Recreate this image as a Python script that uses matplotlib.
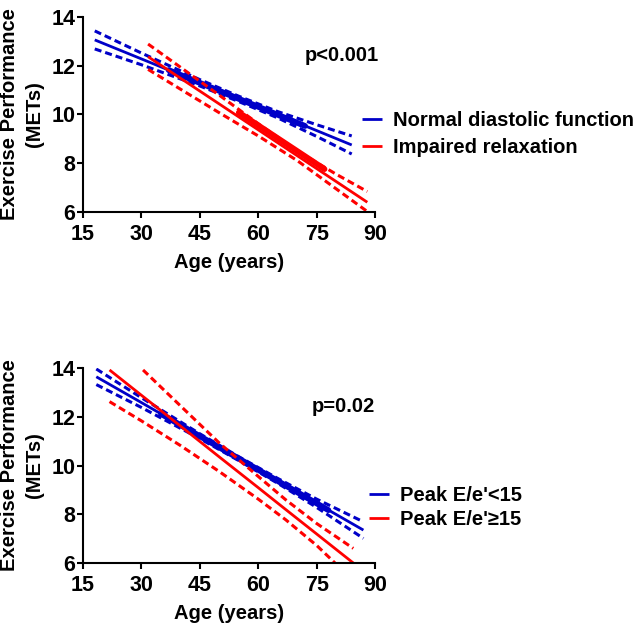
import numpy as np
import matplotlib
matplotlib.use("Agg")
import matplotlib.pyplot as plt

plt.rcParams['font.family'] = ['Liberation Sans', 'DejaVu Sans']
plt.rcParams['font.weight'] = 'bold'

BLUE = '#0000c8'
RED = '#ff0000'

# top panel: normal diastolic function vs impaired relaxation
top_blue_age = [18, 30, 45, 55, 65, 75, 84]
top_blue_fit = [13.06, 12.28, 11.30, 10.64, 9.99, 9.34, 8.75]
top_blue_hi = [13.43, 12.52, 11.43, 10.75, 10.12, 9.58, 9.12]
top_blue_lo = [12.69, 12.04, 11.17, 10.53, 9.86, 9.10, 8.38]
top_blue_dense_age = [37, 72]
top_blue_dense = [11.82, 9.53]

top_red_age = [31.7, 40, 50, 60, 70, 80, 88]
top_red_fit = [12.37, 11.49, 10.43, 9.37, 8.31, 7.25, 6.40]
top_red_hi = [12.89, 11.94, 10.79, 9.62, 8.51, 7.55, 6.84]
top_red_lo = [11.85, 11.04, 10.07, 9.12, 8.11, 6.95, 6.02]
top_red_dense_age = [55, 77]
top_red_dense = [10.08, 7.76]

# bottom panel: peak E/e' < 15 vs >= 15
bot_blue_age = [18.4, 30, 45, 55, 65, 75, 87]
bot_blue_fit = [13.64, 12.58, 11.20, 10.28, 9.37, 8.45, 7.35]
bot_blue_hi = [13.96, 12.78, 11.30, 10.36, 9.47, 8.62, 7.69]
bot_blue_lo = [13.32, 12.38, 11.10, 10.20, 9.27, 8.28, 7.01]
bot_blue_dense_age = [35, 78]
bot_blue_dense = [12.12, 8.17]

bot_red_age = [21.8, 30, 40, 50, 60, 67, 75, 84.4]
bot_red_fit = [13.92, 12.88, 11.62, 10.35, 9.09, 8.20, 7.19, 6.00]
bot_red_hi_age = [30.4, 40, 50, 60, 67, 75, 84.4]
bot_red_hi = [13.92, 12.45, 10.92, 9.55, 8.60, 7.62, 6.60]
bot_red_lo_age = [21.8, 30, 40, 50, 60, 67, 75, 79.7]
bot_red_lo = [12.62, 11.83, 10.82, 9.75, 8.62, 7.78, 6.72, 6.00]

xticks = [15, 30, 45, 60, 75, 90]
yticks = [6, 8, 10, 12, 14]

top_labels = ['Normal diastolic function', 'Impaired relaxation']
bot_labels = ["Peak E/e'<15", "Peak E/e'\u226515"]

fig = plt.figure(figsize=(6.39, 6.25), dpi=100)
ax1 = fig.add_axes([0.130, 0.6608, 0.457, 0.312])
ax2 = fig.add_axes([0.130, 0.0992, 0.457, 0.312])

dash = (2.3, 1.3)
FS = 14.5


def draw_group(ax, age, fit, hi_age, hi, lo_age, lo, color, label, dense_age=None, dense=None):
    ax.plot(age, fit, color=color, lw=2, label=label, solid_capstyle='butt')
    ax.plot(hi_age, hi, color=color, lw=2.2, dashes=dash)
    ax.plot(lo_age, lo, color=color, lw=2.2, dashes=dash)
    if dense_age is not None:
        # dense run of overlapping points along the fitted line
        ax.plot(dense_age, dense, color=color, lw=4.2, solid_capstyle='round')


draw_group(ax1, top_blue_age, top_blue_fit, top_blue_age, top_blue_hi, top_blue_age, top_blue_lo,
           BLUE, top_labels[0], top_blue_dense_age, top_blue_dense)
draw_group(ax1, top_red_age, top_red_fit, top_red_age, top_red_hi, top_red_age, top_red_lo,
           RED, top_labels[1], top_red_dense_age, top_red_dense)

draw_group(ax2, bot_blue_age, bot_blue_fit, bot_blue_age, bot_blue_hi, bot_blue_age, bot_blue_lo,
           BLUE, bot_labels[0], bot_blue_dense_age, bot_blue_dense)
draw_group(ax2, bot_red_age, bot_red_fit, bot_red_hi_age, bot_red_hi, bot_red_lo_age, bot_red_lo,
           RED, bot_labels[1])

for ax in (ax1, ax2):
    ax.set_xlim(15, 90)
    ax.set_ylim(6, 14)
    ax.set_xticks(xticks)
    ax.set_yticks(yticks)
    for s in ('top', 'right'):
        ax.spines[s].set_visible(False)
    for s in ('left', 'bottom'):
        ax.spines[s].set_linewidth(1.5)
    ax.tick_params(axis='both', direction='out', length=4.5, width=1.5, labelsize=15.5)
    ax.tick_params(axis='y', pad=1)
    ax.tick_params(axis='x', pad=4)
    for lab in ax.get_xticklabels() + ax.get_yticklabels():
        lab.set_fontweight('bold')
    ax.set_xlabel('Age (years)', fontsize=FS, fontweight='bold', labelpad=6)
    ax.set_ylabel('Exercise Performance\n(METs)', fontsize=FS, fontweight='bold',
                  va='center', linespacing=1.4)
    ax.yaxis.set_label_coords(-0.21, 0.5)

ax1.text(0.76, 0.805, 'p<0.001', transform=ax1.transAxes, fontsize=FS,
         fontweight='bold', ha='left', va='center')
ax2.text(0.784, 0.80, 'p=0.02', transform=ax2.transAxes, fontsize=FS,
         fontweight='bold', ha='left', va='center')

ax1.legend(loc='center left', bbox_to_anchor=(0.955, 0.40), frameon=False,
           handlelength=1.0, handletextpad=0.55, labelspacing=0.42, borderpad=0,
           borderaxespad=0, prop={'weight': 'bold', 'size': FS})
ax2.legend(loc='center left', bbox_to_anchor=(0.98, 0.285), frameon=False,
           handlelength=1.0, handletextpad=0.55, labelspacing=0.25, borderpad=0,
           borderaxespad=0, prop={'weight': 'bold', 'size': FS})

fig.savefig('out.png', dpi=100)
